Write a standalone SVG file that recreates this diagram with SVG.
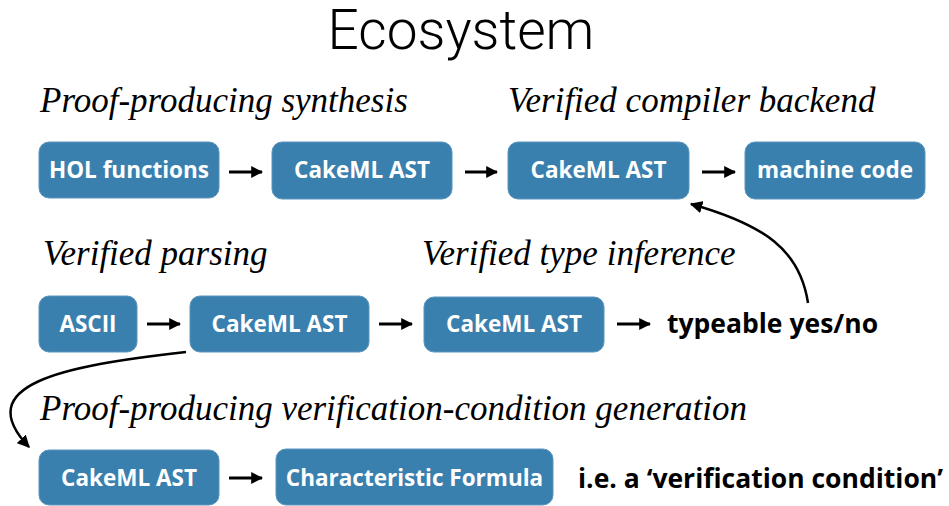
<svg xmlns="http://www.w3.org/2000/svg" width="949" height="506" viewBox="0 0 949 506">
<defs>
<marker id="ah" viewBox="0 0 10 10" refX="9" refY="5" markerWidth="4" markerHeight="4" orient="auto" markerUnits="strokeWidth"><path d="M0,0 L10,5 L0,10 z" fill="#000"/></marker>
<marker id="ahc" viewBox="0 0 10 10" refX="9" refY="5" markerWidth="5" markerHeight="5" orient="auto" markerUnits="strokeWidth"><path d="M0,0 L10,5 L0,10 z" fill="#000"/></marker>
<style>
.box{fill:#3a80ae;stroke:#5b95bd;stroke-width:1}
.bt{font-family:"Open Sans",Lato,"Liberation Sans",sans-serif;font-weight:bold;font-size:22.5px;fill:#fff;text-anchor:middle}
.hd{font-family:"Liberation Serif",serif;font-style:italic;font-size:35px;fill:#000}
.pl{font-family:"Open Sans",Lato,"Liberation Sans",sans-serif;font-weight:bold;font-size:26.5px;fill:#000}
.ar{stroke:#000;stroke-width:3;fill:none;marker-end:url(#ah)}
.cv{stroke:#000;stroke-width:2.5;fill:none;marker-end:url(#ahc)}
</style>
</defs>
<rect width="949" height="506" fill="#fff"/>
<text x="461" y="49" font-family="Roboto,'Liberation Sans',sans-serif" font-weight="300" font-size="55" text-anchor="middle">Ecosystem</text>
<g id="headings">
<text class="hd" x="40" y="112">Proof-producing synthesis</text>
<text class="hd" x="508" y="112">Verified compiler backend</text>
<text class="hd" x="43" y="265">Verified parsing</text>
<text class="hd" x="422" y="265">Verified type inference</text>
<text class="hd" x="40" y="420">Proof-producing verification-condition generation</text>
</g>
<g id="n1"><rect class="box" x="39" y="142" width="180" height="56" rx="10"/><text class="bt" x="129" y="178">HOL functions</text></g>
<g id="n2"><rect class="box" x="272" y="142" width="180" height="57" rx="10"/><text class="bt" x="362" y="178">CakeML AST</text></g>
<g id="n3"><rect class="box" x="508" y="142" width="181" height="57" rx="10"/><text class="bt" x="598.5" y="178">CakeML AST</text></g>
<g id="n4"><rect class="box" x="745" y="142" width="180" height="57" rx="10"/><text class="bt" x="835" y="178">machine code</text></g>
<g id="n5"><rect class="box" x="39" y="296" width="98" height="56" rx="10"/><text class="bt" x="88" y="332">ASCII</text></g>
<g id="n6"><rect class="box" x="190" y="296" width="179" height="56" rx="10"/><text class="bt" x="279.5" y="332">CakeML AST</text></g>
<g id="n7"><rect class="box" x="424" y="297" width="180" height="55" rx="10"/><text class="bt" x="514" y="332">CakeML AST</text></g>
<g id="n8"><text class="pl" x="667" y="333">typeable yes/no</text></g>
<g id="n9"><rect class="box" x="39" y="450" width="180" height="55" rx="10"/><text class="bt" x="129" y="486">CakeML AST</text></g>
<g id="n10"><rect class="box" x="276" y="449" width="277" height="56" rx="10"/><text class="bt" x="414.5" y="486">Characteristic Formula</text></g>
<g id="n11"><text class="pl" x="578" y="488">i.e. a ‘verification condition’</text></g>
<g id="connectors">
<line class="ar" x1="229" y1="172" x2="262" y2="172"/>
<line class="ar" x1="465" y1="172" x2="497" y2="172"/>
<line class="ar" x1="702" y1="172" x2="735" y2="172"/>
<line class="ar" x1="147" y1="324" x2="180" y2="324"/>
<line class="ar" x1="379" y1="324" x2="412" y2="324"/>
<line class="ar" x1="617" y1="324" x2="650" y2="324"/>
<line class="ar" x1="229" y1="478" x2="262" y2="478"/>
<path class="cv" d="M808,303 C800,250 765,225 691,204"/>
<path class="cv" d="M186,352 C60,366 -30,385 29,447"/>
</g>
</svg>
